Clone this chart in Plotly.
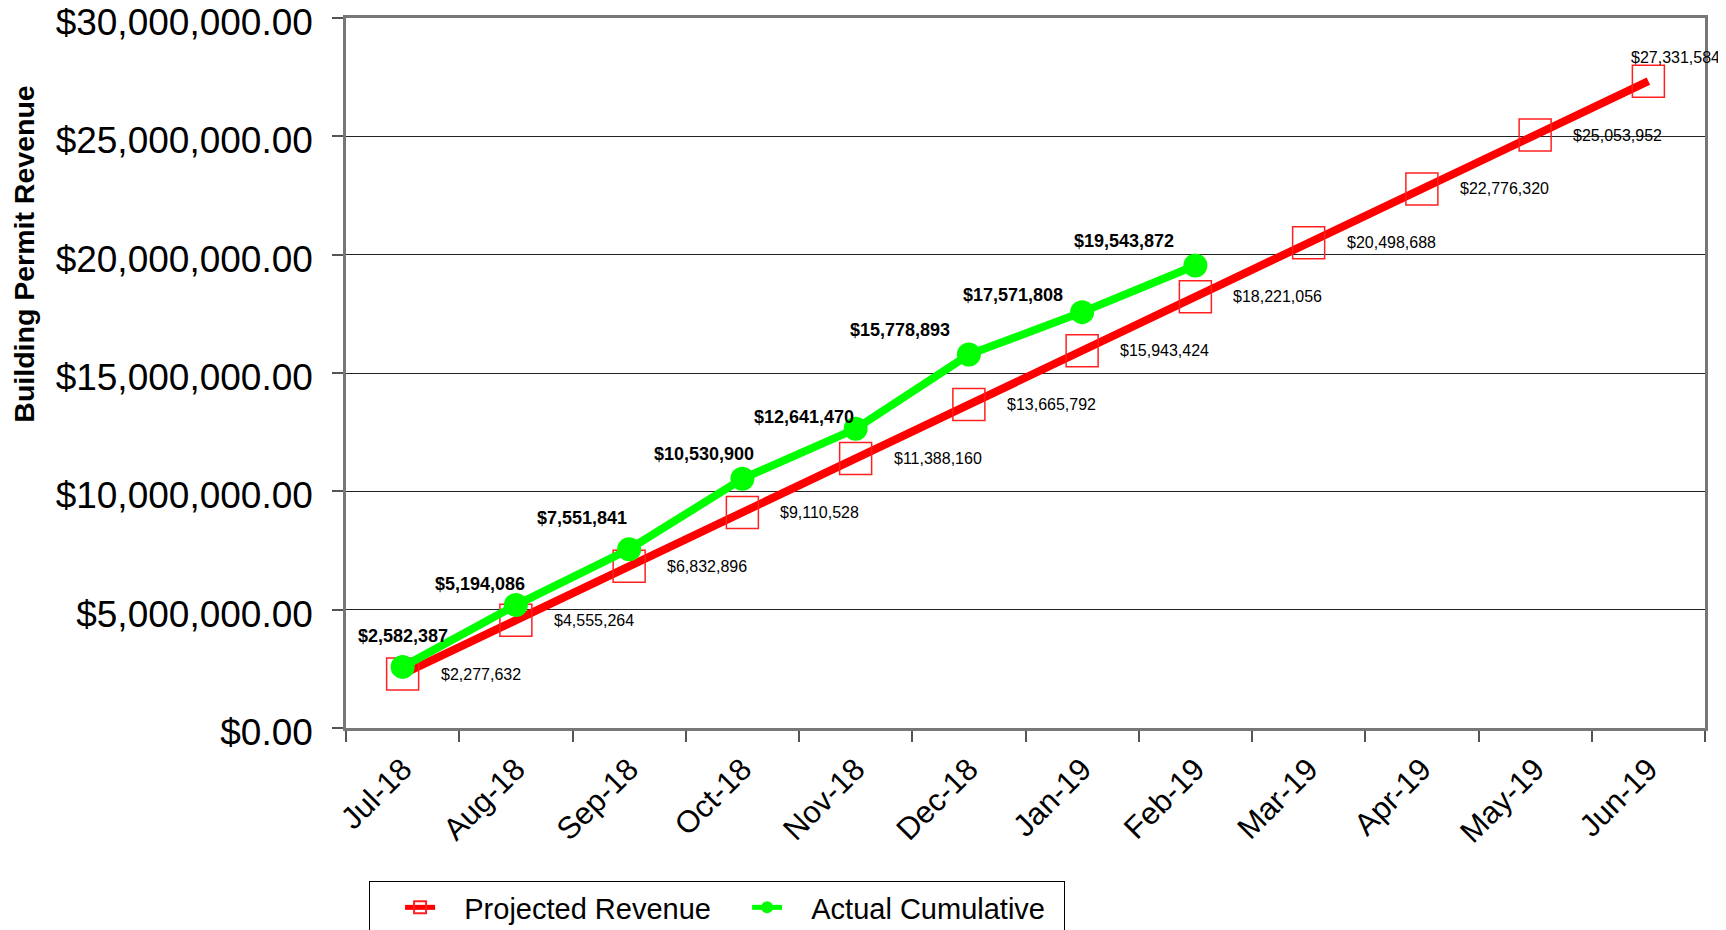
import plotly.graph_objects as go

months = ["Jul-18", "Aug-18", "Sep-18", "Oct-18", "Nov-18", "Dec-18",
          "Jan-19", "Feb-19", "Mar-19", "Apr-19", "May-19", "Jun-19"]
projected = [2277632, 4555264, 6832896, 9110528, 11388160, 13665792,
             15943424, 18221056, 20498688, 22776320, 25053952, 27331584]
actual = [2582387, 5194086, 7551841, 10530900, 12641470, 15778893,
          17571808, 19543872]

# label offsets (pixels) for data labels
act_dx = [0, -36, -47, -38, -52, -69, -69, -71]
act_dy = [31, 21, 31, 25, 12, 25, 17, 24]
proj_dx = [36] * 11 + [-19]
proj_dy = [0] * 11 + [24]

FONT = "Liberation Sans, Arial, sans-serif"
PAD = "\u00a0\u00a0\u00a0"

fig = go.Figure()
fig.add_trace(go.Scatter(
    x=months, y=projected, name=PAD + "Projected Revenue", mode="lines+markers",
    line=dict(color="#FF0000", width=8),
    marker=dict(symbol="square-open", size=32,
                line=dict(color="#FF2020", width=1.5), color="#FF2020"),
))
fig.add_trace(go.Scatter(
    x=months[:len(actual)], y=actual, name=PAD + "Actual Cumulative", mode="lines+markers",
    line=dict(color="#00FF00", width=8),
    marker=dict(symbol="circle", size=24, color="#00FF00"),
))

annotations = []
for i, v in enumerate(projected):
    annotations.append(dict(
        x=months[i], y=v, xref="x", yref="y", text=f"${v:,}", showarrow=False,
        xanchor="left", yanchor="middle", xshift=proj_dx[i], yshift=proj_dy[i],
        font=dict(family=FONT, size=16, color="black")))
for i, v in enumerate(actual):
    annotations.append(dict(
        x=months[i], y=v, xref="x", yref="y", text=f"<b>${v:,}</b>", showarrow=False,
        xanchor="center", yanchor="middle", xshift=act_dx[i], yshift=act_dy[i],
        font=dict(family=FONT, size=18, color="black")))
annotations.append(dict(
    x=-0.237, y=0.668, xref="paper", yref="paper", text="<b>Building Permit Revenue</b>",
    textangle=-90, showarrow=False, xanchor="center", yanchor="middle",
    font=dict(family=FONT, size=28.5, color="black")))

fig.update_layout(
    width=1718, height=922,
    margin=dict(l=338, r=21, t=10, b=202, autoexpand=False),
    paper_bgcolor="white", plot_bgcolor="white",
    font=dict(family=FONT, color="black"),
    showlegend=True,
    legend=dict(orientation="h", x=0.017, y=-0.2155, xanchor="left", yanchor="top",
                bordercolor="black", borderwidth=1, bgcolor="white",
                font=dict(family=FONT, size=29, color="black"),
                entrywidth=272, indentation=30, itemsizing="constant"),
    annotations=annotations,
)
fig.update_xaxes(
    type="category", range=[-0.5, 11.5], tickangle=-45,
    tickfont=dict(family=FONT, size=31, color="black"),
    ticks="outside", ticklen=11, tickcolor="#555555", tickwidth=1.5,
    tickson="boundaries", showgrid=False, ticklabelstandoff=8,
    showline=True, linecolor="#777777", linewidth=2.5, mirror=True,
)
fig.update_yaxes(
    range=[0, 30000000], dtick=5000000, tickprefix="$", tickformat=",.2f",
    tickfont=dict(family=FONT, size=37, color="black"),
    ticks="outside", ticklen=11, tickcolor="#555555", tickwidth=1.5,
    showgrid=True, gridcolor="#222222", gridwidth=1,
    showline=True, linecolor="#777777", linewidth=2.5, mirror=True,
    zeroline=False, ticklabelstandoff=12, ticklabeloverflow="allow",
    ticklabelshift=4,
)

fig.write_html("out.html")
